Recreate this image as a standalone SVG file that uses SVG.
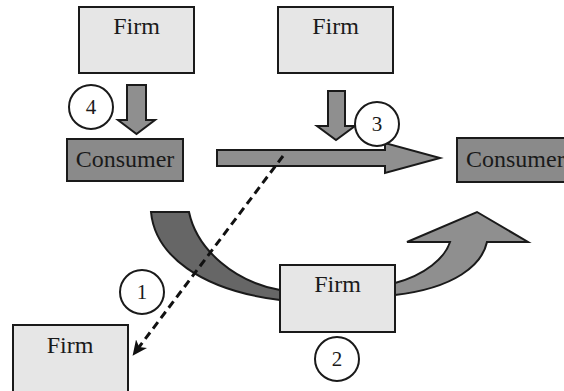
<svg xmlns="http://www.w3.org/2000/svg" width="564" height="391" viewBox="0 0 564 391">
<defs>
<style>
.firm{fill:#e6e6e6;stroke:#1a1a1a;stroke-width:2}
.cons{fill:#8a8a8a;stroke:#1a1a1a;stroke-width:2}
.lbl{font-family:"Liberation Serif","Times New Roman",serif;font-size:24px;fill:#1a1a1a}
.num{font-family:"Liberation Serif","Times New Roman",serif;font-size:21px;fill:#1a1a1a;text-anchor:middle}
.badge{fill:#ffffff;stroke:#1a1a1a;stroke-width:2}
.blk{fill:#8f8f8f;stroke:#1a1a1a;stroke-width:2;stroke-linejoin:miter}
.sweep{fill:#666666;stroke:#1a1a1a;stroke-width:2}
.dash{fill:none;stroke:#111111;stroke-width:3;stroke-dasharray:8 5}
</style>
<marker id="ah" markerUnits="userSpaceOnUse" markerWidth="16" markerHeight="14" refX="6" refY="7" orient="auto">
<path d="M0,0 L15,7 L0,14 L4,7 Z" fill="#111111"/>
</marker>
</defs>
<rect width="564" height="391" fill="#ffffff"/>

<g id="connectors">
<path class="blk" d="M127,85 L146,85 L146,120 L155,120 L136.5,134 L118,120 L127,120 Z"/>
<path class="blk" d="M328,91 L345,91 L345,126 L355,126 L336,140 L317,126 L328,126 Z"/>
<path class="blk" d="M217,150 L385,150 L385,143 L440,158 L385,173 L385,166 L217,166 Z"/>
<path class="sweep" d="M151,212 L189,212 C197,250 235,282 280,290 L280,300 C200,290 155,255 151,212 Z"/>
<path class="blk" d="M395,283 C425,275 445,258 450,242 L407,242 L477,212 L528,242 L487,242 C482,265 455,288 395,295 Z"/>
<line class="dash" x1="283" y1="156" x2="138" y2="348.5" marker-end="url(#ah)"/>
</g>

<g id="firm-top-left">
<rect class="firm" x="79" y="7" width="115" height="66"/>
<text class="lbl" x="136.5" y="34" text-anchor="middle">Firm</text>
</g>
<g id="firm-top-right">
<rect class="firm" x="278" y="7" width="115" height="66"/>
<text class="lbl" x="335.5" y="34" text-anchor="middle">Firm</text>
</g>
<g id="consumer-left">
<rect class="cons" x="67" y="139" width="116" height="42"/>
<text class="lbl" x="125" y="167" text-anchor="middle">Consumer</text>
</g>
<g id="consumer-right">
<rect class="cons" x="457" y="138" width="120" height="44"/>
<text class="lbl" x="466" y="167">Consumer</text>
</g>
<g id="firm-middle">
<rect class="firm" x="280" y="265" width="115" height="67"/>
<text class="lbl" x="337.5" y="292" text-anchor="middle">Firm</text>
</g>
<g id="firm-bottom-left">
<rect class="firm" x="13" y="325" width="115" height="80"/>
<text class="lbl" x="70" y="353" text-anchor="middle">Firm</text>
</g>

<g id="badge-1">
<circle class="badge" cx="142" cy="292" r="22"/>
<text class="num" x="142" y="299">1</text>
</g>
<g id="badge-2">
<circle class="badge" cx="337" cy="359" r="22"/>
<text class="num" x="337" y="366">2</text>
</g>
<g id="badge-3">
<circle class="badge" cx="377" cy="124" r="22"/>
<text class="num" x="377" y="131">3</text>
</g>
<g id="badge-4">
<circle class="badge" cx="91" cy="107" r="22"/>
<text class="num" x="91" y="114">4</text>
</g>
</svg>
